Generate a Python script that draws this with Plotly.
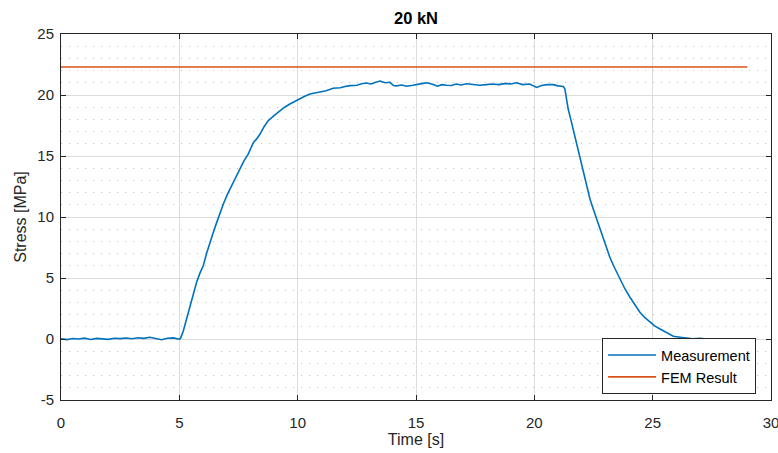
import plotly.graph_objects as go

title_text = "20 kN"
x_label = "Time [s]"
y_label = "Stress [MPa]"

time_s = [0.0, 0.25, 0.5, 0.75, 1.0, 1.25, 1.5, 1.75, 2.0, 2.25, 2.5, 2.75, 3.0, 3.25, 3.5, 3.75,
          4.0, 4.25, 4.5, 4.75, 5.0, 5.05,
          5.17, 5.3, 5.45, 5.6, 5.73, 5.87, 6.01, 6.15, 6.29, 6.43, 6.58, 6.72, 6.86, 7.03, 7.21,
          7.38, 7.56, 7.73, 7.91, 8.02, 8.13, 8.27, 8.41, 8.58, 8.76, 9.0, 9.25, 9.45, 9.67, 9.9,
          10.1, 10.3, 10.52, 10.7, 10.94, 11.2, 11.5, 11.8, 12.0, 12.21, 12.5, 12.7, 12.91, 13.1,
          13.3, 13.48, 13.7, 13.9, 14.05, 14.18, 14.4, 14.6, 14.87, 15.1, 15.3, 15.45, 15.7, 15.9,
          16.1, 16.3, 16.5, 16.7, 16.9, 17.14, 17.4, 17.7, 17.98, 18.2, 18.5, 18.8, 19.0, 19.25,
          19.5, 19.8, 20.1, 20.3, 20.55, 20.8, 21.0, 21.15, 21.22, 21.29,
          21.43, 21.54, 21.64, 21.75, 21.86, 21.95, 22.04, 22.2, 22.35, 22.5, 22.63, 22.77, 22.91,
          23.05, 23.19, 23.4, 23.62, 23.83, 24.04, 24.25, 24.46, 24.67, 24.88, 25.1, 25.31, 25.6,
          25.87, 26.15, 26.43, 26.7, 27.0, 27.28, 27.6, 27.98, 28.3, 28.69, 28.85, 28.97]

stress_mpa = [0.02, -0.05, 0.04, 0.00, 0.07, -0.04, 0.05, 0.01, -0.03, 0.06, 0.03, 0.08, 0.02, 0.10,
              0.05, 0.14, 0.04, -0.06, 0.06, 0.09, -0.02, 0.05,
              0.68, 1.6, 2.73, 3.8, 4.65, 5.4, 6.0, 7.0, 7.93, 8.7, 9.56, 10.35, 11.07, 11.85, 12.57,
              13.3, 13.93, 14.6, 15.16, 15.7, 16.12, 16.4, 16.8, 17.4, 17.9, 18.3, 18.71, 19.0, 19.26,
              19.5, 19.75, 19.9, 20.08, 20.15, 20.27, 20.35, 20.55, 20.6, 20.7, 20.77, 20.8, 20.92,
              20.98, 20.9, 21.05, 21.15, 21.0, 21.04, 20.78, 20.75, 20.82, 20.72, 20.8, 20.85, 20.95,
              21.0, 20.88, 20.72, 20.85, 20.8, 20.78, 20.9, 20.82, 20.92, 20.85, 20.8, 20.85, 20.9,
              20.85, 20.95, 20.9, 21.0, 20.85, 20.9, 20.62, 20.78, 20.85, 20.85, 20.75, 20.72, 20.7,
              20.5,
              18.85, 18.0, 17.2, 16.2, 15.3, 14.6, 13.93, 12.7, 11.48, 10.6, 9.84, 9.0, 8.33, 7.5,
              6.7, 5.8, 4.92, 4.1, 3.42, 2.8, 2.19, 1.75, 1.37, 1.05, 0.82, 0.5, 0.22, 0.15, 0.06,
              0.02, 0.05, -0.02, -0.08, -0.14, -0.12, -0.19, -0.15, -0.06]

fem_time = [0.0, 29.0]
fem_stress = [22.3, 22.3]

x_ticks = [0, 5, 10, 15, 20, 25, 30]
y_ticks = [-5, 0, 5, 10, 15, 20, 25]

axis_color = "#262626"
font_family = "Arial, 'Liberation Sans', Helvetica, sans-serif"

fig = go.Figure()
fig.add_trace(go.Scatter(x=time_s, y=stress_mpa, mode="lines", name="Measurement",
                         line=dict(color="#0072BD", width=1.6)))
fig.add_trace(go.Scatter(x=fem_time, y=fem_stress, mode="lines", name="FEM Result",
                         line=dict(color="#D95319", width=1.6)))

axis_common = dict(
    showline=True, linecolor=axis_color, linewidth=1, mirror="ticks",
    ticks="inside", ticklen=5, tickcolor=axis_color, tickwidth=1,
    showgrid=True, gridcolor="#dcdcdc", gridwidth=1,
    zeroline=False, automargin=False, ticklabeloverflow="allow",
    tickfont=dict(family=font_family, size=15, color=axis_color),
)

fig.update_xaxes(range=[0, 30], tickvals=x_ticks, ticktext=[str(v) for v in x_ticks],
                 ticklabelstandoff=9,
                 title=dict(text=x_label, font=dict(family=font_family, size=16, color=axis_color),
                            standoff=2),
                 **axis_common)
fig.update_yaxes(range=[-5, 25], tickvals=y_ticks, ticktext=[str(v) for v in y_ticks],
                 ticklabelstandoff=3,
                 title=dict(text=y_label, font=dict(family=font_family, size=16, color=axis_color),
                            standoff=6),
                 minor=dict(dtick=1, tick0=0, showgrid=True, gridcolor="#c0c0c0", gridwidth=1,
                            griddash="1px,7px", ticks=""),
                 **axis_common)

fig.update_layout(
    width=778, height=453,
    margin=dict(l=61, r=7, t=34, b=53, autoexpand=False),
    paper_bgcolor="white", plot_bgcolor="white",
    title=dict(text="<b>" + title_text + "</b>", x=(61 + 771) / 2 / 778, xanchor="center",
               y=1 - 18 / 453, yanchor="middle",
               font=dict(family=font_family, size=16.5, color="#000000")),
    legend=dict(x=0.979, y=0.016, xanchor="right", yanchor="bottom",
                bgcolor="white", bordercolor=axis_color, borderwidth=1,
                font=dict(family=font_family, size=14.5, color="#000000"),
                tracegroupgap=0, itemwidth=48),
    showlegend=True,
)

fig.write_html("out.html", config={"displayModeBar": False},
               post_script="document.body.style.margin='0';document.body.style.overflow='hidden';")
